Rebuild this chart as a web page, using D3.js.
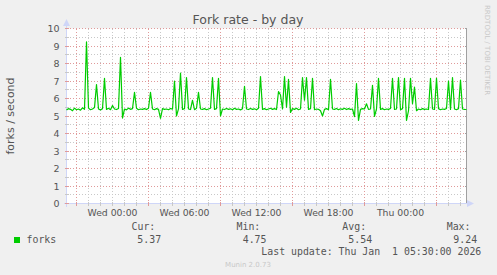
<!DOCTYPE html>
<html>
<head>
<meta charset="utf-8">
<script src="https://cdn.jsdelivr.net/npm/d3@7"></script>
<style>
  body { margin: 0; background: #f0f0f0; }
  svg { display: block; }
  text { font-family: 'DejaVu Sans', sans-serif; }
  .mono { font-family: 'DejaVu Sans Mono', monospace; }
</style>
</head>
<body>
<div id="chart"></div>
<script>
// chart values
var title = 'Fork rate - by day';
var yLabel = 'forks / second';
var seriesName = 'forks';
var startTime = new Date(2025, 11, 30, 20, 10);
var endTime = new Date(2026, 0, 1, 5, 30);
var stepMinutes = 10;

// one sample every 10 minutes
var forks = [
  5.35, 5.42, 5.38, 5.30, 5.45, 5.36, 5.40, 5.33, 5.47, 5.38,
  9.24, 5.45, 5.36, 5.40, 5.48, 6.80, 5.40, 5.35, 5.42, 7.15,
  5.38, 5.44, 5.36, 5.60, 5.40, 5.37, 5.43, 8.35, 4.88, 5.40,
  5.35, 5.45, 5.38, 5.42, 6.35, 5.44, 5.36, 5.40, 5.38, 5.42,
  5.37, 5.44, 6.35, 5.40, 5.36, 5.42, 5.38, 4.87, 5.42, 5.38,
  5.40, 5.36, 5.43, 5.39, 7.00, 5.00, 5.41, 7.45, 5.38, 5.42,
  7.20, 5.40, 5.37, 5.90, 5.36, 5.44, 6.35, 5.40, 5.38, 5.42,
  5.36, 5.40, 5.44, 7.20, 5.38, 5.42, 7.15, 5.00, 5.40, 5.37,
  5.43, 5.38, 5.41, 5.36, 5.44, 5.38, 5.40, 5.35, 5.42, 6.70,
  5.40, 5.37, 5.43, 5.38, 5.41, 5.36, 5.44, 7.25, 5.38, 5.42,
  5.36, 5.40, 5.44, 5.38, 5.42, 5.37, 6.40, 6.20, 5.40, 7.25,
  5.50, 7.10, 5.20, 5.42, 5.38, 5.44, 5.36, 5.40, 7.20, 5.90,
  7.20, 5.38, 5.42, 7.15, 5.36, 5.40, 5.38, 5.30, 5.00, 5.38,
  5.42, 5.36, 7.10, 5.40, 5.38, 5.43, 5.36, 5.41, 5.38, 5.44,
  5.37, 5.42, 5.38, 5.40, 4.96, 6.85, 4.75, 5.38, 5.42, 5.40,
  5.70, 5.38, 5.40, 6.75, 4.98, 5.40, 7.15, 5.38, 5.42, 5.36,
  5.40, 5.38, 5.43, 7.15, 5.38, 5.40, 7.20, 5.36, 5.42, 7.15,
  4.75, 5.30, 7.15, 5.70, 6.65, 5.30, 5.40, 5.36, 5.42, 5.38,
  5.40, 5.37, 7.15, 5.40, 5.38, 7.15, 5.42, 5.36, 5.40, 5.38,
  5.43, 7.00, 5.38, 7.20, 5.40, 5.36, 5.42, 7.05, 5.40, 5.38,
  5.37
];

var yTicks = [0, 1, 2, 3, 4, 5, 6, 7, 8, 9, 10];
var xTickTimes = [
  new Date(2025, 11, 31, 0, 0),
  new Date(2025, 11, 31, 6, 0),
  new Date(2025, 11, 31, 12, 0),
  new Date(2025, 11, 31, 18, 0),
  new Date(2026, 0, 1, 0, 0)
];
var xTickLabels = ['Wed 00:00', 'Wed 06:00', 'Wed 12:00', 'Wed 18:00', 'Thu 00:00'];

var statNames = ['Cur:', 'Min:', 'Avg:', 'Max:'];
var statValues = ['5.37', '4.75', '5.54', '9.24'];
var lastUpdate = 'Last update: Thu Jan  1 05:30:00 2026';
var footer = 'Munin 2.0.73';
var watermark = 'RRDTOOL / TOBI OETIKER';

var W = 497, H = 275;
var plot = { left: 66.5, right: 466.5, top: 28.5, bottom: 203.5 };

var x = d3.scaleTime().domain([startTime, endTime]).range([plot.left, plot.right]);
var y = d3.scaleLinear().domain([0, 10]).range([plot.bottom, plot.top]);

var px = function (v) { return Math.round(v - 0.5) + 0.5; };

var svg = d3.select('#chart').append('svg').
attr('width', W).
attr('height', H);

svg.append('rect').attr('width', W).attr('height', H).attr('fill', '#f0f0f0');

// canvas
svg.append('rect').
attr('x', plot.left).
attr('y', plot.top).
attr('width', plot.right - plot.left).
attr('height', plot.bottom - plot.top).
attr('fill', '#ffffff');

// grid
var hours = d3.timeHour.every(1).range(startTime, endTime);
var isMajor = function (d) { return (d.getHours() + 3) % 6 === 0; };
var halfSteps = d3.range(0, 10.01, 0.5);

var grid = svg.append('g').attr('shape-rendering', 'crispEdges');

grid.selectAll('line.vminor').
data(hours.filter(function (d) { return !isMajor(d); })).
enter().append('line').
attr('x1', function (d) { return px(x(d)); }).
attr('x2', function (d) { return px(x(d)); }).
attr('y1', plot.top).
attr('y2', plot.bottom).
attr('stroke', '#c8c8c8').
attr('stroke-dasharray', '1,2');

grid.selectAll('line.hminor').
data(halfSteps.filter(function (d) { return d % 1 !== 0; })).
enter().append('line').
attr('x1', plot.left).
attr('x2', plot.right).
attr('y1', function (d) { return px(y(d)); }).
attr('y2', function (d) { return px(y(d)); }).
attr('stroke', '#c8c8c8').
attr('stroke-dasharray', '1,2');

grid.selectAll('line.vmajor').
data(hours.filter(isMajor)).
enter().append('line').
attr('x1', function (d) { return px(x(d)); }).
attr('x2', function (d) { return px(x(d)); }).
attr('y1', plot.top).
attr('y2', plot.bottom).
attr('stroke', '#e09a9a').
attr('stroke-dasharray', '1,2');

grid.selectAll('line.hmajor').
data(yTicks).
enter().append('line').
attr('x1', plot.left).
attr('x2', plot.right).
attr('y1', function (d) { return px(y(d)); }).
attr('y2', function (d) { return px(y(d)); }).
attr('stroke', '#e09a9a').
attr('stroke-dasharray', '1,2');

// right frame line with small ticks
grid.append('line').
attr('x1', plot.right).attr('x2', plot.right).
attr('y1', plot.top).attr('y2', plot.bottom).
attr('stroke', '#a0a0a0');

grid.selectAll('line.rtick').
data(yTicks).
enter().append('line').
attr('x1', plot.right - 2).attr('x2', plot.right).
attr('y1', function (d) { return px(y(d)); }).
attr('y2', function (d) { return px(y(d)); }).
attr('stroke', '#a0a0a0');

// axes in light blue with arrows
var axisColor = '#cfd6f8';
grid.append('line').
attr('x1', plot.left).attr('x2', plot.left).
attr('y1', plot.bottom + 3).attr('y2', 24).
attr('stroke', axisColor);
grid.append('line').
attr('x1', plot.left - 3).attr('x2', 468).
attr('y1', plot.bottom).attr('y2', plot.bottom).
attr('stroke', axisColor);

svg.append('path').
attr('d', 'M63,26 L66.5,19 L70,26 Z').
attr('fill', axisColor);
svg.append('path').
attr('d', 'M467,200 L474,203.5 L467,207 Z').
attr('fill', axisColor);

// axis ticks
grid.selectAll('line.xtick').
data(hours).
enter().append('line').
attr('x1', function (d) { return px(x(d)); }).
attr('x2', function (d) { return px(x(d)); }).
attr('y1', plot.bottom - 2).
attr('y2', plot.bottom + 2).
attr('stroke', function (d) { return isMajor(d) ? '#e09a9a' : '#c8c8c8'; });

grid.selectAll('line.ytick').
data(halfSteps).
enter().append('line').
attr('x1', plot.left - 2).
attr('x2', plot.left + 2).
attr('y1', function (d) { return px(y(d)); }).
attr('y2', function (d) { return px(y(d)); }).
attr('stroke', function (d) { return d % 1 === 0 ? '#e09a9a' : '#c8c8c8'; });

// data line
var line = d3.line().
x(function (d, i) { return x(d3.timeMinute.offset(startTime, i * stepMinutes)); }).
y(function (d) { return y(d); });

svg.append('path').
datum(forks).
attr('d', line).
attr('fill', 'none').
attr('stroke', '#00cc00').
attr('stroke-width', 1.2).
attr('stroke-linejoin', 'round');

// labels
svg.append('text').
text(title).
attr('x', 248).
attr('y', 24).
attr('text-anchor', 'middle').
style('font-size', '12.5px').
attr('fill', '#555');

svg.selectAll('text.ylab').
data(yTicks).
enter().append('text').
text(function (d) { return d; }).
attr('x', 59.5).
attr('y', function (d) { return y(d) + 3.5; }).
attr('text-anchor', 'end').
style('font-size', '9.5px').
attr('fill', '#555');

svg.selectAll('text.xlab').
data(xTickTimes).
enter().append('text').
text(function (d, i) { return xTickLabels[i]; }).
attr('x', function (d) { return x(d); }).
attr('y', 215.5).
attr('text-anchor', 'middle').
style('font-size', '9.3px').
attr('fill', '#555');

svg.append('text').
text(yLabel).
attr('transform', 'translate(14,' + ((plot.top + plot.bottom) / 2) + ') rotate(-90)').
attr('text-anchor', 'middle').
style('font-size', '11px').
attr('fill', '#555');

svg.append('text').
text(watermark).
attr('transform', 'translate(485,5) rotate(90)').
style('font-size', '7px').
attr('fill', '#c8c8c8');

// legend
svg.append('rect').
attr('x', 14).attr('y', 237).
attr('width', 6).attr('height', 6).
attr('fill', '#00cc00');

svg.append('text').
attr('class', 'mono').
text(seriesName).
attr('x', 26.5).attr('y', 242.5).
style('font-size', '9.9px').
attr('fill', '#555');

var statX = [131.5, 236.5, 342.3, 446.7];
var valX = [137.3, 242.7, 348.3, 453.3];

svg.selectAll('text.statname').
data(statNames).
enter().append('text').
attr('class', 'mono').
text(function (d) { return d; }).
attr('x', function (d, i) { return statX[i]; }).
attr('y', 230).
style('font-size', '9.9px').
attr('fill', '#555');

svg.selectAll('text.statval').
data(statValues).
enter().append('text').
attr('class', 'mono').
text(function (d) { return d; }).
attr('x', function (d, i) { return valX[i]; }).
attr('y', 242.5).
style('font-size', '9.9px').
attr('fill', '#555');

svg.append('text').
attr('class', 'mono').
text(lastUpdate).
attr('x', 261.3).attr('y', 255).
style('font-size', '9.9px').
style('white-space', 'pre').
attr('xml:space', 'preserve').
attr('fill', '#555');

svg.append('text').
text(footer).
attr('x', 248).attr('y', 266.5).
attr('text-anchor', 'middle').
style('font-size', '7px').
attr('fill', '#c8c8c8');
</script>
</body>
</html>
